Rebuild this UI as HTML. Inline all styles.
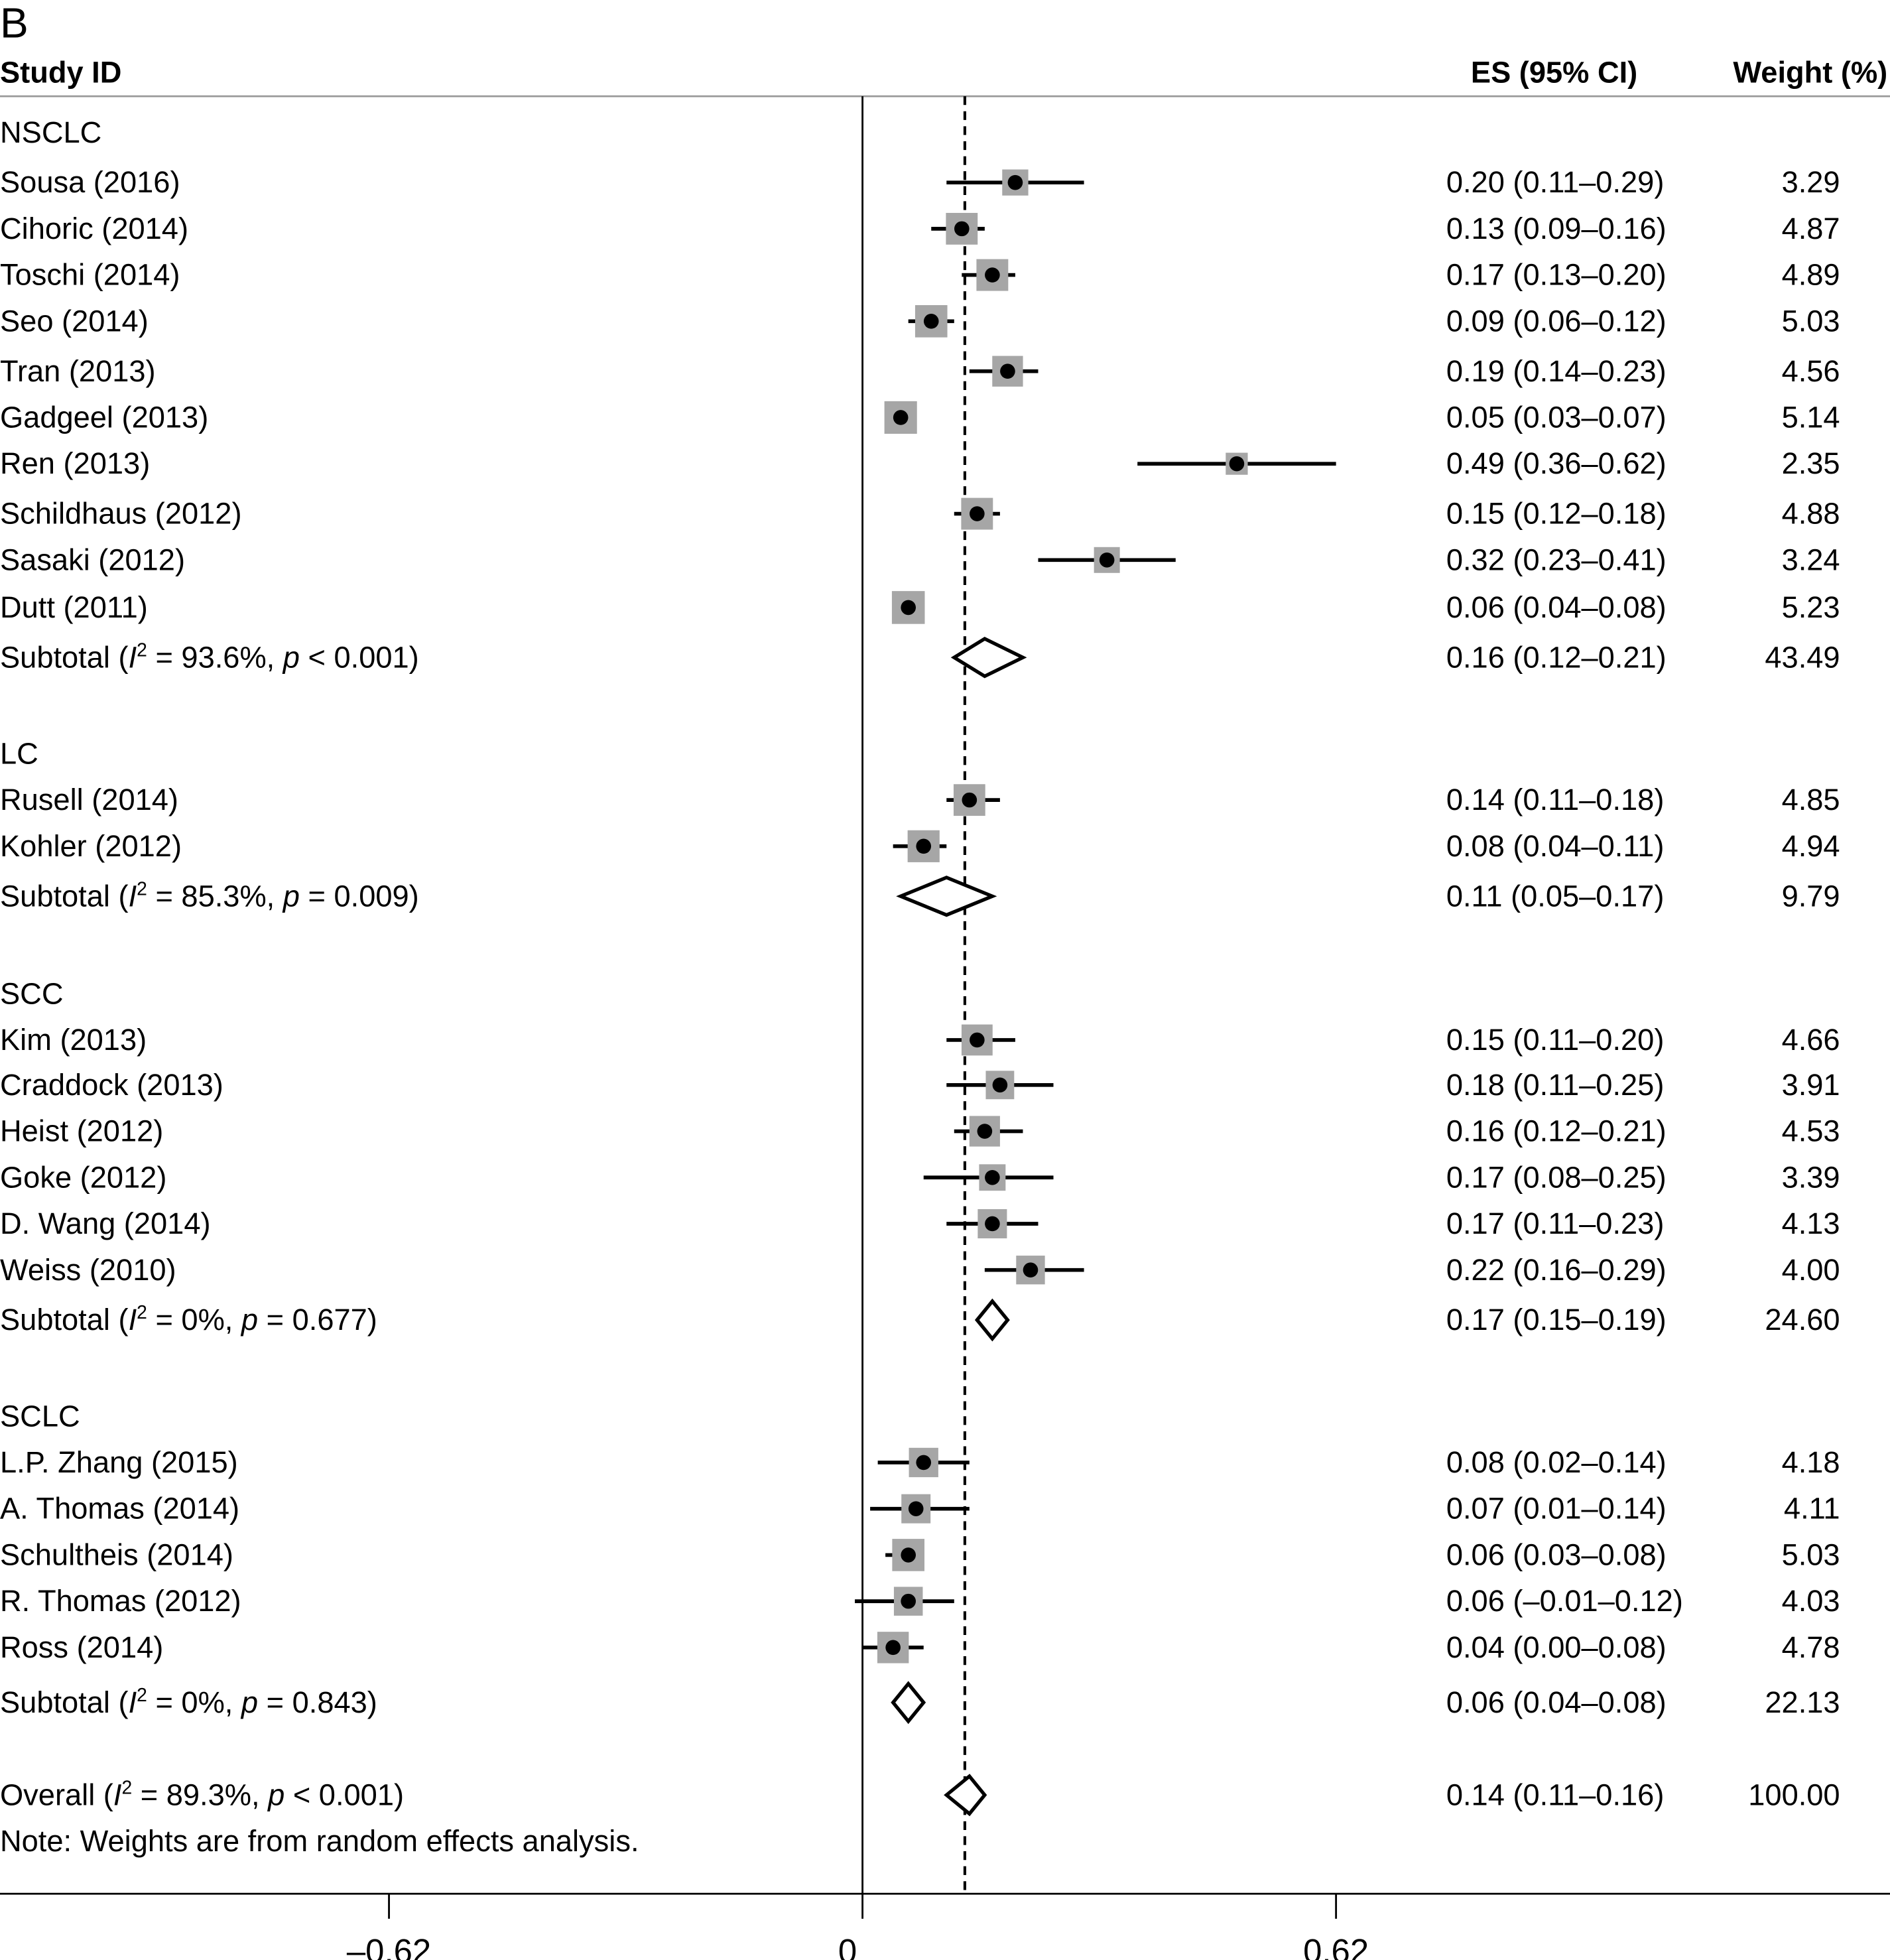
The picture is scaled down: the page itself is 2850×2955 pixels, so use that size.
<!DOCTYPE html>
<html><head><meta charset="utf-8"><style>
html,body{margin:0;padding:0;background:#fff;}
svg{display:block;font-family:"Liberation Sans",sans-serif;}
</style></head><body>
<svg id="chart" width="2850" height="2955" viewBox="0 0 1512 1568" preserveAspectRatio="none" xmlns="http://www.w3.org/2000/svg">
<text x="0" y="30" font-size="34">B</text>
<text x="0" y="66" font-size="24" font-weight="bold">Study ID</text>
<text x="1310" y="66" font-size="24" font-weight="bold" text-anchor="end">ES (95% CI)</text>
<text x="1510" y="66" font-size="24" font-weight="bold" text-anchor="end">Weight (%)</text>
<line x1="0" y1="77" x2="1512" y2="77" stroke="#999" stroke-width="1.5"/>
<g id="plot"></g>
</svg>
<script>
const rowTypes = ["g","s","s","s","s","s","s","s","s","s","s","t","g","s","s","t","g","s","s","s","s","s","s","t","g","s","s","s","s","s","t","o"];
const rowLabels = ["NSCLC","Sousa (2016)","Cihoric (2014)","Toschi (2014)","Seo (2014)","Tran (2013)","Gadgeel (2013)","Ren (2013)","Schildhaus (2012)","Sasaki (2012)","Dutt (2011)","Subtotal (I² = 93.6%, p < 0.001)","LC","Rusell (2014)","Kohler (2012)","Subtotal (I² = 85.3%, p = 0.009)","SCC","Kim (2013)","Craddock (2013)","Heist (2012)","Goke (2012)","D. Wang (2014)","Weiss (2010)","Subtotal (I² = 0%, p = 0.677)","SCLC","L.P. Zhang (2015)","A. Thomas (2014)","Schultheis (2014)","R. Thomas (2012)","Ross (2014)","Subtotal (I² = 0%, p = 0.843)","Overall (I² = 89.3%, p < 0.001)"];
const esValues = [null,0.20,0.13,0.17,0.09,0.19,0.05,0.49,0.15,0.32,0.06,0.16,null,0.14,0.08,0.11,null,0.15,0.18,0.16,0.17,0.17,0.22,0.17,null,0.08,0.07,0.06,0.06,0.04,0.06,0.14];
const loValues = [null,0.11,0.09,0.13,0.06,0.14,0.03,0.36,0.12,0.23,0.04,0.12,null,0.11,0.04,0.05,null,0.11,0.11,0.12,0.08,0.11,0.16,0.15,null,0.02,0.01,0.03,-0.01,0.00,0.04,0.11];
const hiValues = [null,0.29,0.16,0.20,0.12,0.23,0.07,0.62,0.18,0.41,0.08,0.21,null,0.18,0.11,0.17,null,0.20,0.25,0.21,0.25,0.23,0.29,0.19,null,0.14,0.14,0.08,0.12,0.08,0.08,0.16];
const weights = [null,3.29,4.87,4.89,5.03,4.56,5.14,2.35,4.88,3.24,5.23,43.49,null,4.85,4.94,9.79,null,4.66,3.91,4.53,3.39,4.13,4.00,24.60,null,4.18,4.11,5.03,4.03,4.78,22.13,100.00];
const esTexts = [null,"0.20 (0.11–0.29)","0.13 (0.09–0.16)","0.17 (0.13–0.20)","0.09 (0.06–0.12)","0.19 (0.14–0.23)","0.05 (0.03–0.07)","0.49 (0.36–0.62)","0.15 (0.12–0.18)","0.32 (0.23–0.41)","0.06 (0.04–0.08)","0.16 (0.12–0.21)",null,"0.14 (0.11–0.18)","0.08 (0.04–0.11)","0.11 (0.05–0.17)",null,"0.15 (0.11–0.20)","0.18 (0.11–0.25)","0.16 (0.12–0.21)","0.17 (0.08–0.25)","0.17 (0.11–0.23)","0.22 (0.16–0.29)","0.17 (0.15–0.19)",null,"0.08 (0.02–0.14)","0.07 (0.01–0.14)","0.06 (0.03–0.08)","0.06 (–0.01–0.12)","0.04 (0.00–0.08)","0.06 (0.04–0.08)","0.14 (0.11–0.16)"];
const rowY = [106,146,183,220,257,297,334,371,411,448,486,526,603,640,677,717,795,832,868,905,942,979,1016,1056,1133,1170,1207,1244,1281,1318,1362,1436];
const tickValues = [-0.62,0,0.62];
const tickLabels = ["–0.62","0","0.62"];
const overallRef = 0.134;

const NS="http://www.w3.org/2000/svg";
const g=document.getElementById('plot');
const xs=v=>690+v*611;
function mk(tag,attrs,parent){const e=document.createElementNS(NS,tag);for(const k in attrs)e.setAttribute(k,attrs[k]);(parent||g).appendChild(e);return e;}

let e=mk('line',{x1:690,y1:77,x2:690,y2:1515,stroke:'#000','stroke-width':1.5});


e=mk('line',{x1:0,y1:1515,x2:1512,y2:1515,stroke:'#000','stroke-width':1.5});


e=mk('line',{x1:xs(overallRef),y1:77,x2:xs(overallRef),y2:1515,stroke:'#000','stroke-width':2.2,'stroke-dasharray':'7,5'});


tickValues.forEach((t,i)=>{
  let l=mk('line',{x1:xs(t),y1:1515,x2:xs(t),y2:1535,stroke:'#000','stroke-width':1.5});
  
  
  let tx=mk('text',{x:xs(t)-(i===1?12:0),y:1570,'font-size':27,'text-anchor':'middle'});
  tx.textContent=tickLabels[i];
  
  
});

rowTypes.forEach((tp,i)=>{
  const y=rowY[i];
  const lab=mk('text',{x:0,y:y+8,'font-size':24});
  
  
  const L=rowLabels[i];
  const m=L.match(/^(.*\()I²(.*?, )p(.*)$/);
  if(m){
    lab.appendChild(document.createTextNode(m[1]));
    let s=mk('tspan',{'font-style':'italic'},lab);s.textContent='I';
    s=mk('tspan',{'font-size':15,dy:-9},lab);s.textContent='2';
    s=mk('tspan',{dy:9},lab);s.textContent=m[2];
    s=mk('tspan',{'font-style':'italic'},lab);s.textContent='p';
    lab.appendChild(document.createTextNode(m[3]));
  } else lab.textContent=L;
  if(tp==='g')return;
  const es=esValues[i],lo=loValues[i],hi=hiValues[i];
  let t=mk('text',{x:1157,y:y+8,'font-size':24});t.textContent=esTexts[i];
  
  
  t=mk('text',{x:1472,y:y+8,'font-size':24,'text-anchor':'end'});t.textContent=weights[i].toFixed(2);
  
  
  if(tp==='s'){
    let w=mk('line',{x1:xs(lo),y1:y,x2:xs(hi),y2:y,stroke:'#000','stroke-width':3});
    
    
    const side=11.5*Math.sqrt(weights[i]);
    let b=mk('rect',{x:xs(es)-side/2,y:y-side/2,width:side,height:side,fill:'#a6a6a6'});
    
    
    let c=mk('circle',{cx:xs(es),cy:y,r:6,fill:'#000'});
    
    
  } else {
    const h=15;
    let d=mk('polygon',{points:`${xs(lo)},${y} ${xs(es)},${y-h} ${xs(hi)},${y} ${xs(es)},${y+h}`,fill:'#fff',stroke:'#000','stroke-width':2.8});
    
    
  }
});
let n=mk('text',{x:0,y:1481,'font-size':24});n.textContent='Note: Weights are from random effects analysis.';


</script>
</body></html>
